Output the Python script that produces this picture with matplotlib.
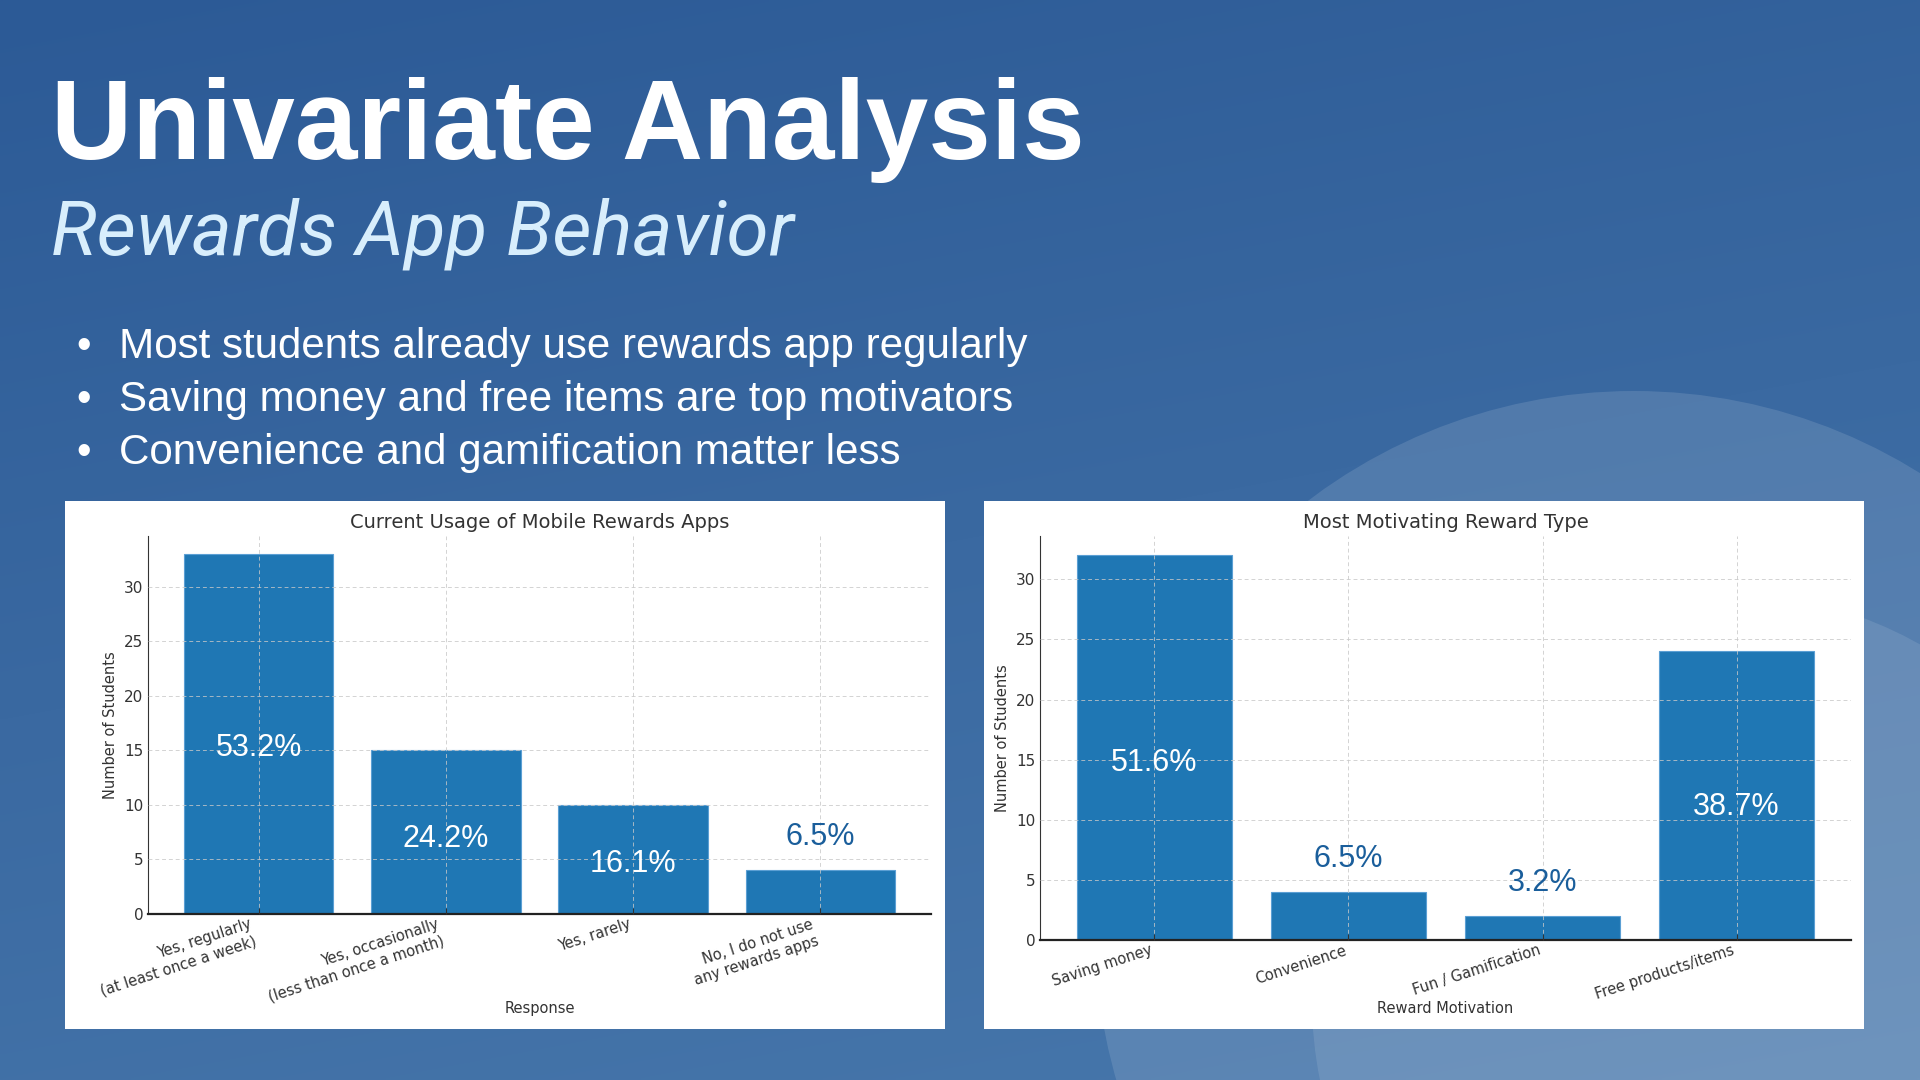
import numpy as np
import matplotlib.pyplot as plt
from matplotlib.patches import Circle, Rectangle

# slide text
title = "Univariate Analysis"
subtitle = "Rewards App Behavior"
bullets = [
    "Most students already use rewards app regularly",
    "Saving money and free items are top motivators",
    "Convenience and gamification matter less",
]

# left chart: current usage
usage_labels = [
    "Yes, regularly\n(at least once a week)",
    "Yes, occasionally\n(less than once a month)",
    "Yes, rarely",
    "No, I do not use\nany rewards apps",
]
usage_counts = [33, 15, 10, 4]

# right chart: reward motivation
reward_labels = ["Saving money", "Convenience", "Fun / Gamification", "Free products/items"]
reward_counts = [32, 4, 2, 24]

W, H = 1920, 1080
fig = plt.figure(figsize=(19.2, 10.8), dpi=100)

# background: gradient, soft circles and the two white chart cards
bg = fig.add_axes([0, 0, 1, 1], zorder=-1)
yy, xx = np.mgrid[0:1:300j, 0:1:300j]
t = 0.75 * yy + 0.25 * xx
top = np.array([44, 90, 150]) / 255
bottom = np.array([72, 120, 172]) / 255
grad = top + (bottom - top) * t[..., None]
bg.imshow(grad, extent=(0, W, H, 0), aspect="auto", interpolation="bilinear")
bg.add_patch(Circle((1634, 930), 539, color="white", alpha=0.12, lw=0))
bg.add_patch(Circle((1720, 1000), 408, color="white", alpha=0.10, lw=0))
for x0 in (65, 984):
    bg.add_patch(Rectangle((x0, 501), 880, 528, color="white", lw=0))
bg.set_xlim(0, W)
bg.set_ylim(H, 0)
bg.axis("off")

# header text
fig.text(51 / W, 1 - 159 / H, title, fontsize=81, fontweight="bold",
         family="Liberation Sans", color="white", va="baseline")
fig.text(51 / W, 1 - 255 / H, subtitle, fontsize=55, style="italic",
         family="Roboto", color="#d8eefc", va="baseline")
for i, line in enumerate(bullets):
    yb = 1 - (358 + 53 * i) / H
    fig.text(76 / W, yb, "\u2022", fontsize=30, family="Liberation Sans", color="white", va="baseline")
    fig.text(119 / W, yb, line, fontsize=30.3, family="Liberation Sans", color="white", va="baseline")


def bar_panel(rect, labels, counts, chart_title, xlabel, xlabel_y):
    ax = fig.add_axes(rect)
    x = np.arange(len(counts))
    bars = ax.bar(x, counts, width=0.8, color="#1f77b4", edgecolor="#5b9fd4", linewidth=0.8)
    ax.set_xticks(x, labels, rotation=18, ha="right", fontsize=10.5, color="#333333")
    ax.tick_params(axis="x", direction="in", length=4, pad=2, color="#333333")
    ax.tick_params(axis="y", length=0, labelsize=11, labelcolor="#333333")
    ax.set_title(chart_title, fontsize=14, color="#333333")
    ax.set_xlabel(xlabel, fontsize=10.5, color="#333333")
    ax.xaxis.set_label_coords(0.5, xlabel_y)
    ax.set_ylabel("Number of Students", fontsize=10.5, color="#333333")
    ax.grid(True, linestyle=(0, (4, 3)), color="#c8c8c8", linewidth=0.7, alpha=0.8)
    ax.set_axisbelow(False)
    ax.spines[["top", "right"]].set_visible(False)
    ax.spines["bottom"].set_linewidth(1.6)
    ax.spines["bottom"].set_color("#222222")
    ax.spines["left"].set_linewidth(0.8)
    ax.spines["left"].set_color("#333333")

    total = sum(counts)
    for b, v in zip(bars, counts):
        pct = f"{v / total * 100:.1f}%"
        cx = b.get_x() + b.get_width() / 2
        if v > 5:
            ax.text(cx, v * 0.46, pct, color="white", ha="center", va="center",
                    fontsize=22, family="Liberation Sans")
        else:
            ax.annotate(pct, (cx, v), xytext=(0, 24), textcoords="offset points",
                        ha="center", va="center", color="#1a5e9b", fontsize=22,
                        family="Liberation Sans")
    return ax


bar_panel([148 / W, 1 - 914 / H, 783 / W, 378 / H], usage_labels, usage_counts,
          "Current Usage of Mobile Rewards Apps", "Response", -0.23)
bar_panel([1040 / W, 1 - 940 / H, 811 / W, 404 / H], reward_labels, reward_counts,
          "Most Motivating Reward Type", "Reward Motivation", -0.151)

fig.savefig("out.png", dpi=100)
